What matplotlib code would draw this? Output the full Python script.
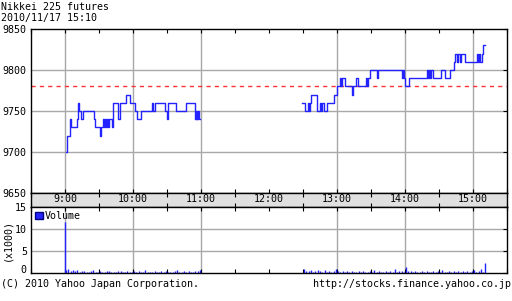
import numpy as np
import matplotlib.pyplot as plt
from matplotlib.patches import Patch

# minutes after 9:00 -> price (step changes)
am_t = [0.5, 1.8, 4.4, 5.0, 10.6, 11.5, 12.1, 13.7, 15.9, 25.6, 26.5, 30.9, 31.8,
        33.5, 34.4, 35.3, 36.2, 37.0, 37.9, 38.8, 41.5, 42.3, 47.2, 48.1, 53.8,
        57.3, 62.2, 63.5, 67.0, 76.7, 77.6, 79.4, 88.2, 90.0, 90.8, 97.9, 106.7,
        114.7, 115.2, 115.7, 116.2, 116.7, 117.2, 118.2, 119.0]
am_p = [9700, 9720, 9740, 9730, 9740, 9760, 9750, 9740, 9750, 9740, 9730, 9720, 9730,
        9740, 9730, 9740, 9730, 9740, 9730, 9740, 9730, 9760, 9740, 9760, 9770,
        9760, 9750, 9740, 9750, 9760, 9750, 9760, 9750, 9740, 9760, 9750, 9760,
        9740, 9750, 9740, 9750, 9740, 9750, 9740, 9740]

pm_t = [209.0, 211.7, 214.3, 215.2, 216.1, 217.4, 222.3, 224.9, 225.8, 226.7, 228.4,
        231.1, 237.3, 239.9, 242.6, 243.4, 244.3, 247.0, 253.1, 254.0, 256.7, 258.9,
        265.5, 266.4, 267.2, 269.0, 275.2, 276.1, 297.2, 298.1, 299.0, 299.9, 303.8,
        319.3, 320.2, 321.1, 321.9, 322.8, 324.6, 331.6, 335.2, 339.6, 343.1, 344.0,
        345.7, 346.6, 348.4, 349.3, 352.8, 363.4, 364.3, 365.2, 366.1, 367.8, 369.1,
        370.4]
pm_p = [9760, 9750, 9760, 9750, 9760, 9770, 9750, 9760, 9750, 9760, 9750,
        9760, 9770, 9780, 9790, 9780, 9790, 9780, 9770, 9780, 9790, 9780,
        9790, 9780, 9790, 9800, 9790, 9800, 9790, 9800, 9790, 9780, 9790,
        9800, 9790, 9800, 9790, 9800, 9790, 9800, 9790, 9800, 9810, 9820,
        9810, 9820, 9810, 9820, 9810, 9820, 9810, 9820, 9810, 9820, 9830,
        9830]

prev_close = 9780

# volume (x1000)
open_vol = 11.5
vol_am = [0.6, 0.8, 0.5, 0.7, 0.4, 0.6, 0.3, 0.4, 0.5, 0.3, 0.3, 0.4, 0.6, 0.3, 0.2,
          0.4, 0.3, 0.3, 0.5, 0.4, 0.3, 0.2, 0.3, 0.4, 0.5, 0.3, 0.3, 0.4, 0.3, 0.2,
          0.5, 0.3, 0.4, 0.3, 0.3, 0.6, 0.3, 0.2, 0.3, 0.4, 0.3, 0.3, 0.5, 0.3, 0.4,
          0.3, 0.2, 0.3, 0.4, 0.6, 0.3, 0.3, 0.5, 0.3, 0.4, 0.3, 0.3, 0.4, 0.5, 0.6]
vol_pm = [0.9, 0.5, 0.4, 0.7, 0.3, 0.5, 0.6, 0.4, 0.3, 0.7, 0.3, 0.5, 0.3, 0.4, 0.8,
          0.4, 0.3, 0.5, 0.3, 0.4, 0.3, 0.5, 0.3, 0.3, 0.4, 0.3, 0.5, 0.3, 0.3, 0.4,
          0.3, 0.6, 0.3, 0.4, 0.3, 0.3, 0.5, 0.3, 0.4, 0.3, 0.8, 0.3, 0.4, 0.5, 0.3,
          1.3, 0.4, 0.5, 0.3, 0.4, 0.3, 0.3, 0.5, 0.3, 0.4, 0.3, 0.3, 0.5, 0.3, 0.4,
          0.3, 0.6, 0.3, 0.3, 0.4, 0.3, 0.5, 0.3, 0.4, 0.3, 0.4, 0.3, 0.5, 0.3, 0.4,
          0.6, 0.3, 0.5, 0.8, 0.3]
close_vol = 2.3

hour_labels = ['9:00', '10:00', '11:00', '12:00', '13:00', '14:00', '15:00']
hour_pos = [0, 60, 120, 180, 240, 300, 360]
grid_hours = [0, 60, 120, 240, 300, 360]
half_pos = [-30, 30, 90, 150, 180, 210, 270, 330, 390]

plt.rcParams['font.family'] = 'DejaVu Sans Mono'
plt.rcParams['font.size'] = 7.2

blue = '#2323ff'
gridc = '#a8a8a8'
W, H = 512, 301

fig = plt.figure(figsize=(W / 100, H / 100), dpi=100)
ax = fig.add_axes([31 / W, 1 - 193 / H, 476 / W, 164 / H])
band = fig.add_axes([31 / W, 1 - 207 / H, 476 / W, 14 / H])
axv = fig.add_axes([31 / W, 1 - 273 / H, 476 / W, 66 / H])

for a in (ax, band, axv):
    a.set_xlim(-30, 390)
    for s in a.spines.values():
        s.set_linewidth(1.0)
    a.set_xticks(hour_pos)
    a.set_xticks(half_pos, minor=True)
    a.tick_params(axis='x', which='both', direction='in', length=3, width=0.8,
                  top=True, bottom=True, labelbottom=False)

# price panel
for h in grid_hours:
    ax.axvline(h, color=gridc, lw=1.0, zorder=0)
for v in (9700, 9750, 9800):
    ax.axhline(v, color=gridc, lw=1.0, zorder=0)
ax.axhline(prev_close, color='#ff3030', lw=1.0, ls=(0, (3, 3)), zorder=1)
ax.plot(am_t, am_p, drawstyle='steps-post', color=blue, lw=1.0)
ax.plot(pm_t, pm_p, drawstyle='steps-post', color=blue, lw=1.0)
ax.set_ylim(9650, 9850)
ax.set_yticks([9650, 9700, 9750, 9800, 9850])
ax.tick_params(axis='y', left=False, right=True, direction='in', length=3, pad=3)

# time band
band.set_facecolor('#e0e0e0')
band.set_ylim(0, 1)
band.set_yticks([])
band.set_xticklabels(hour_labels)
band.tick_params(axis='x', which='major', length=0, labelbottom=True, pad=-9.5)

# volume panel
for h in grid_hours:
    axv.axvline(h, color=gridc, lw=1.0, zorder=0)
for v in (5, 10):
    axv.axhline(v, color=gridc, lw=1.0, zorder=0)
axv.vlines([0], 0, [open_vol], color=blue, lw=1.0)
axv.vlines([1 + 2 * i for i in range(len(vol_am))], 0, vol_am, color=blue, lw=1.0)
axv.vlines([211 + 2 * i for i in range(len(vol_pm))], 0, vol_pm, color=blue, lw=1.0)
axv.vlines([370.4], 0, [close_vol], color=blue, lw=1.0)
axv.set_ylim(0, 15)
axv.set_yticks([0, 5, 10, 15])
axv.tick_params(axis='y', left=False, right=True, direction='in', length=3, pad=3)
axv.get_yticklabels()[0].set_va('baseline')
axv.set_ylabel('(x1000)', labelpad=2)
axv.legend(handles=[Patch(facecolor='#2323ff', edgecolor='#000080', label='Volume')],
           loc='upper left', frameon=False, handlelength=0.8, handleheight=0.8,
           handletextpad=0.2, borderaxespad=0.2, borderpad=0.2)

fig.text(1 / W, 1 - 2 / H, 'Nikkei 225 futures', ha='left', va='top')
fig.text(1 / W, 1 - 13 / H, '2010/11/17 15:10', ha='left', va='top')
fig.text(1 / W, 1 - 279 / H, '(C) 2010 Yahoo Japan Corporation.', ha='left', va='top')
fig.text(511 / W, 1 - 279 / H, 'http://stocks.finance.yahoo.co.jp', ha='right', va='top')

fig.savefig('out.png', dpi=100)
